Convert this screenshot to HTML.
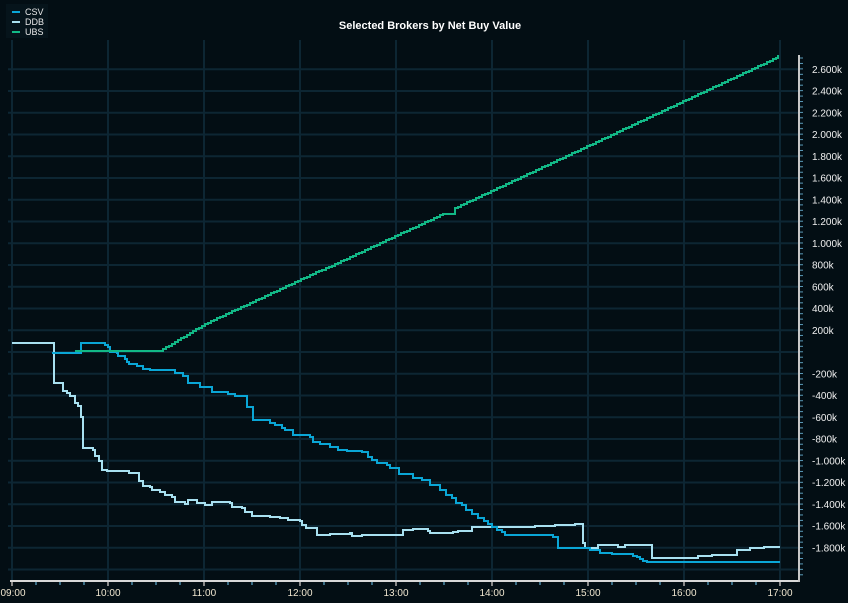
<!DOCTYPE html>
<html><head><meta charset="utf-8"><style>
html,body{margin:0;padding:0;background:#030e14;}
svg{display:block;font-family:"Liberation Sans",sans-serif;}
</style></head><body>
<svg id="s" width="848" height="603" viewBox="0 0 848 603" xmlns="http://www.w3.org/2000/svg">
<rect width="848" height="603" fill="#030e14"/>
<g id="grid" stroke="#0d2633" stroke-width="2"></g>
<text x="430" y="29" fill="#ffffff" font-size="11" font-weight="bold" text-anchor="middle">Selected Brokers by Net Buy Value</text>
<rect x="6" y="4" width="42" height="34" fill="#06141b"/>
<line x1="12" y1="12" x2="20" y2="12" stroke="#0aa6d6" stroke-width="2"/>
<line x1="12" y1="22" x2="20" y2="22" stroke="#a8e0f0" stroke-width="2"/>
<line x1="12" y1="32" x2="20" y2="32" stroke="#12b886" stroke-width="2"/>
<text x="25" y="15" fill="#e8e8e8" font-size="9">CSV</text>
<text x="25" y="25" fill="#e8e8e8" font-size="9">DDB</text>
<text x="25" y="35" fill="#e8e8e8" font-size="9">UBS</text>
<g id="axes"></g>
<polyline id="ddb" fill="none" stroke="#a8e0f0" stroke-width="2"/>
<polyline id="csv" fill="none" stroke="#0aa6d6" stroke-width="2"/>
<polyline id="ubs" fill="none" stroke="#12b886" stroke-width="2"/>
</svg>
<script>
var NS="http://www.w3.org/2000/svg";
function el(p,t,a,txt){var e=document.createElementNS(NS,t);for(var k in a)e.setAttribute(k,a[k]);if(txt)e.textContent=txt;document.getElementById(p).appendChild(e);return e;}
function Y(v){return 352-v/200*21.75;}
for(var v=-2000;v<=2600;v+=200){var y=Y(v);if(y<55||y>581)continue;el("grid","line",{x1:8,x2:799,y1:y,y2:y});}
var hrs=["09:00","10:00","11:00","12:00","13:00","14:00","15:00","16:00","17:00"];
for(var i=0;i<9;i++){var x=12+96*i;el("grid","line",{x1:x,x2:x,y1:40,y2:581});
 el("axes","text",{x:x+(i==0?1:0),y:596,fill:"#f0e6d0","font-size":"10","text-anchor":"middle"},hrs[i]);
 el("axes","line",{x1:x,x2:x,y1:582,y2:586,stroke:"#888","stroke-width":2});
 for(var j=1;j<4;j++){if(i<8)el("axes","line",{x1:x+24*j,x2:x+24*j,y1:582,y2:585,stroke:"#4a8aa8","stroke-width":1.5});}
}
el("axes","line",{x1:10,x2:800,y1:581,y2:581,stroke:"#d8d8d8","stroke-width":2});
el("axes","line",{x1:799,x2:799,y1:55,y2:582,stroke:"#c8c8c8","stroke-width":2});
for(var yy=58;yy<580;yy+=5.44)el("axes","line",{x1:800,x2:803,y1:yy,y2:yy,stroke:"#5a9ab8","stroke-width":1});
function lab(v){var a=Math.abs(v),s;if(a>=1000){s=Math.floor(a/1000)+"."+("00"+(a%1000)).slice(-3)+"k";}else s=a+"k";return (v<0?"-":"")+s;}
for(var v=-1800;v<=2600;v+=200){if(v==0)continue;el("axes","text",{x:812,y:Y(v)+3.5,fill:"#f0f0f0","font-size":"10"},lab(v));}
function stairs(pts){var o=[];for(var i=0;i<pts.length;i++){var p=pts[i];if(i>0){o.push(p[0]+","+pts[i-1][1]);}o.push(p[0]+","+p[1]);}return o.join(" ");}
var ddb=[[12,343],[54,343],[54,383],[63,383],[63,391],[67,393],[70,396],[75,396],[75,403],[78,406],[81,406],[81,417],[83,417],[83,448],[93,450],[95,456],[99,456],[99,461],[102,461],[102,470],[107,471],[127,471],[129,473],[137,473],[139,481],[143,481],[143,486],[150,487],[152,490],[160,492],[165,495],[172,497],[175,502],[183,502],[185,504],[188,500],[195,500],[197,503],[205,505],[212,505],[212,502],[230,503],[232,507],[242,508],[245,512],[250,512],[252,516],[270,517],[280,518],[288,520],[300,521],[302,525],[306,528],[317,528],[317,535],[328,535],[330,534],[345,534],[350,533],[352,536],[360,536],[362,535],[403,535],[403,530],[413,530],[413,529],[425,529],[428,531],[430,533],[450,533],[453,532],[458,531],[472,531],[472,527],[530,527],[535,526],[552,526],[555,525],[572,525],[575,524],[583,524],[583,543],[585,545],[585,548],[598,548],[598,545],[618,545],[618,547],[625,547],[625,545],[652,545],[652,558],[698,558],[698,556],[712,556],[712,555],[737,555],[737,550],[750,550],[750,548],[764,548],[764,547],[780,547]];
var csv=[[52,353],[81,353],[81,343],[105,343],[105,345],[108,347],[110,352],[117,353],[118,356],[123,356],[125,359],[127,362],[129,364],[137,364],[137,366],[143,367],[143,369],[150,370],[175,370],[175,373],[180,373],[183,376],[188,383],[200,383],[200,387],[210,387],[212,392],[225,392],[228,394],[235,396],[247,400],[247,407],[253,407],[253,420],[267,420],[270,423],[275,425],[282,428],[285,430],[293,430],[293,435],[310,437],[313,442],[320,444],[330,447],[338,450],[347,451],[362,452],[368,457],[372,460],[377,463],[387,465],[390,468],[399,474],[413,478],[422,480],[430,485],[440,490],[446,495],[452,498],[456,503],[462,505],[466,510],[472,514],[478,518],[484,521],[488,524],[492,527],[497,530],[502,532],[505,535],[553,535],[553,537],[558,537],[558,548],[590,548],[590,550],[598,550],[600,553],[612,553],[612,554],[628,554],[633,556],[637,557],[640,559],[643,561],[647,562],[780,562]];
var key=[[75,351],[160,351],[205,324],[443,214],[453,214],[455,208],[776,58]];
var ubs=[];
for(var k=0;k<key.length-1;k++){var a=key[k],b=key[k+1];var n=Math.max(1,Math.round((b[0]-a[0])/3));for(var t=0;t<n;t++){ubs.push([Math.round(a[0]+(b[0]-a[0])*t/n),Math.round(a[1]+(b[1]-a[1])*t/n)]);}}
ubs.push([776,58]);ubs.push([778,55]);
document.getElementById("ddb").setAttribute("points",stairs(ddb));
document.getElementById("csv").setAttribute("points",stairs(csv));
document.getElementById("ubs").setAttribute("points",stairs(ubs));
</script>
</body></html>
